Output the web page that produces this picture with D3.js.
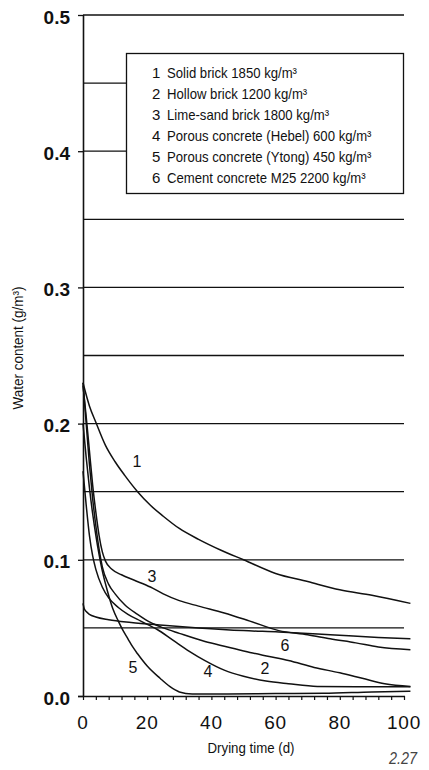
<!DOCTYPE html>
<html><head><meta charset="utf-8">
<script src="https://cdn.jsdelivr.net/npm/d3@7"></script>
<style>body{margin:0;background:#fff}svg{display:block}</style>
</head><body><svg id="c" width="429" height="770"></svg>
<script>
// ---- data ----
const xTickValues = [0, 20, 40, 60, 80, 100];
const xMinorTicks = d3.range(0, 101, 4);
const yTickValues = [0.0, 0.1, 0.2, 0.3, 0.4, 0.5];
const yTickLabels = ["0.0", "0.1", "0.2", "0.3", "0.4", "0.5"];
const gridValues = [0.05, 0.10, 0.15, 0.20, 0.25, 0.30, 0.35, 0.40, 0.45, 0.50];

const legendNumbers = ["1", "2", "3", "4", "5", "6"];
const legendLabels = [
  "Solid brick 1850 kg/m³",
  "Hollow brick 1200 kg/m³",
  "Lime-sand brick 1800 kg/m³",
  "Porous concrete (Hebel) 600 kg/m³",
  "Porous concrete (Ytong) 450 kg/m³",
  "Cement concrete M25 2200 kg/m³"
];

const days1  = [0, 2, 4, 7, 10, 13, 17, 21, 25, 30, 36, 43, 50, 60, 70, 80, 90, 102];
const water1 = [0.230, 0.213, 0.201, 0.184, 0.172, 0.162, 0.150, 0.140, 0.132, 0.123, 0.115, 0.107, 0.100, 0.090, 0.084, 0.078, 0.074, 0.068];

const days2  = [0, 1, 2, 3, 4, 5, 6, 8, 10, 13, 17, 21, 25, 30, 38, 45, 52, 58, 64, 72, 80, 87, 94, 102];
const water2 = [0.230, 0.200, 0.170, 0.145, 0.125, 0.108, 0.095, 0.082, 0.075, 0.067, 0.060, 0.054, 0.050, 0.046, 0.040, 0.036, 0.032, 0.029, 0.026, 0.021, 0.017, 0.013, 0.009, 0.007];

const days3  = [0, 1, 2, 3, 4, 5, 6, 7, 9, 12, 16, 21, 25, 30, 36, 44, 52, 61, 70, 77, 85, 92, 102];
const water3 = [0.228, 0.205, 0.180, 0.155, 0.135, 0.118, 0.106, 0.099, 0.093, 0.089, 0.085, 0.080, 0.075, 0.070, 0.066, 0.061, 0.055, 0.048, 0.045, 0.042, 0.039, 0.036, 0.034];

const days4  = [0, 1, 2, 3, 4, 6, 8, 11, 14, 18, 23, 28, 33, 38, 44, 50, 57, 64, 73, 85, 102];
const water4 = [0.165, 0.140, 0.118, 0.103, 0.093, 0.080, 0.072, 0.065, 0.060, 0.055, 0.049, 0.041, 0.033, 0.026, 0.019, 0.0145, 0.011, 0.009, 0.007, 0.0068, 0.0068];

const days5  = [0, 1, 2, 3, 4, 5, 6, 7.5, 9.3, 11, 12.5, 14, 15.5, 17, 20, 24, 27, 30, 34, 45, 60, 75, 90, 102];
const water5 = [0.200, 0.175, 0.153, 0.134, 0.118, 0.104, 0.092, 0.078, 0.064, 0.055, 0.048, 0.042, 0.036, 0.031, 0.022, 0.013, 0.007, 0.003, 0.0015, 0.0015, 0.0018, 0.002, 0.003, 0.0035];

const days6  = [0, 0.4, 1, 2, 4, 8, 15, 25, 36, 50, 61, 77, 92, 102];
const water6 = [0.068, 0.064, 0.062, 0.060, 0.058, 0.056, 0.054, 0.052, 0.050, 0.048, 0.047, 0.045, 0.043, 0.042];

const curveLabelText  = ["1", "3", "5", "4", "2", "6"];
const curveLabelDays  = [16.8, 21.5, 15.6, 38.9, 56.7, 62.9];
const curveLabelWater = [0.172, 0.088, 0.021, 0.018, 0.020, 0.037];

const xTitle = "Drying time (d)";
const yTitle = "Water content (g/m³)";
const figureNumber = "2.27";

// ---- chart ----
const svg = d3.select("#c");
const x = d3.scaleLinear().domain([0, 100]).range([83, 404]);
const y = d3.scaleLinear().domain([0, 0.5]).range([696, 15]);
const ink = "#111";

// grid lines
svg.append("g").selectAll("line").data(gridValues).join("line")
  .attr("x1", x(0)).attr("x2", x(100))
  .attr("y1", d => y(d)).attr("y2", d => y(d))
  .attr("stroke", ink).attr("stroke-width", 1.3);

// x axis
const xAxis = d3.axisBottom(x).tickValues(xMinorTicks).tickSize(4).tickFormat("");
const gx = svg.append("g").attr("transform", `translate(0,${y(0)})`).call(xAxis);
gx.select(".domain").attr("stroke", ink).attr("stroke-width", 1.6).attr("d", `M${x(0)-5},0.5H${x(100)+1}`);
gx.selectAll(".tick line").attr("stroke", ink).attr("stroke-width", 1.2);
svg.append("g").selectAll("text").data(xTickValues).join("text")
  .attr("x", d => x(d)).attr("y", 729)
  .attr("text-anchor", "middle")
  .attr("font-family", "'Liberation Sans', Arial, sans-serif")
  .attr("font-size", 19).attr("letter-spacing", 0.8)
  .attr("fill", ink)
  .text(d => d);

// y axis
const yAxis = d3.axisLeft(y).tickValues(yTickValues).tickSize(5).tickFormat("");
const gy = svg.append("g").attr("transform", `translate(${x(0)},0)`).call(yAxis);
gy.select(".domain").attr("stroke", ink).attr("stroke-width", 1.6).attr("d", `M0.5,${y(0.5)}V${y(0)}`);
gy.selectAll(".tick line").attr("stroke", ink).attr("stroke-width", 1.3);
svg.append("g").selectAll("text").data(yTickValues).join("text")
  .attr("x", 70).attr("y", d => y(d) + 2)
  .attr("dy", "0.35em")
  .attr("text-anchor", "end")
  .attr("font-family", "'Liberation Sans', Arial, sans-serif")
  .attr("font-weight", "bold").attr("font-size", 19)
  .attr("fill", ink)
  .text((d, i) => yTickLabels[i]);

// curves
const series = [
  [days1, water1], [days2, water2], [days3, water3],
  [days4, water4], [days5, water5], [days6, water6]
];
const line = d3.line().x(d => x(d[0])).y(d => y(d[1])).curve(d3.curveMonotoneX);
svg.append("g").selectAll("path").data(series).join("path")
  .attr("d", s => line(s[0].map((dd, i) => [dd, s[1][i]])))
  .attr("fill", "none").attr("stroke", ink).attr("stroke-width", 1.5);

// curve labels
svg.append("g").selectAll("text").data(curveLabelText).join("text")
  .attr("x", (d, i) => x(curveLabelDays[i]))
  .attr("y", (d, i) => y(curveLabelWater[i]))
  .attr("dy", "0.35em")
  .attr("text-anchor", "middle")
  .attr("font-family", "'Liberation Sans', Arial, sans-serif")
  .attr("font-size", 16).attr("fill", ink)
  .text(d => d);

// legend box
const legend = svg.append("g");
legend.append("rect")
  .attr("x", 126.5).attr("y", 53.5).attr("width", 277).attr("height", 140)
  .attr("fill", "#fff").attr("stroke", ink).attr("stroke-width", 1.3);
const condensed = "'Liberation Sans Narrow', 'Liberation Sans', Arial, sans-serif";
legend.selectAll("text.num").data(legendNumbers).join("text").attr("class", "num")
  .attr("x", 152).attr("y", (d, i) => 78 + i * 21)
  .attr("text-anchor", "start")
  .attr("font-family", condensed).attr("font-size", 15).attr("fill", ink)
  .text(d => d);
const names = legend.selectAll("text.name").data(legendLabels).join("text").attr("class", "name")
  .attr("x", 167).attr("y", (d, i) => 78 + i * 21)
  .attr("font-family", condensed).attr("font-size", 15).attr("fill", ink)
  .text(d => d);
const w0 = names.node().getComputedTextLength();
const k = 130 / w0;
names.each(function() {
  const w = this.getComputedTextLength();
  d3.select(this).attr("textLength", w * k).attr("lengthAdjust", "spacingAndGlyphs");
});

// axis titles
function fitText(sel, target) {
  sel.attr("textLength", target).attr("lengthAdjust", "spacingAndGlyphs");
}
const xt = svg.append("text")
  .attr("x", 251).attr("y", 753).attr("text-anchor", "middle")
  .attr("font-family", condensed).attr("font-size", 14).attr("fill", ink)
  .text(xTitle);
fitText(xt, 87);
const yt = svg.append("text")
  .attr("transform", "translate(23,348) rotate(-90)")
  .attr("text-anchor", "middle")
  .attr("font-family", condensed).attr("font-size", 14).attr("fill", ink)
  .text(yTitle);
fitText(yt, 123);
const fn = svg.append("text")
  .attr("x", 417).attr("y", 764).attr("text-anchor", "end")
  .attr("font-family", condensed).attr("font-size", 16).attr("font-style", "italic")
  .attr("fill", "#444")
  .text(figureNumber);
fitText(fn, 28);
</script></body></html>
